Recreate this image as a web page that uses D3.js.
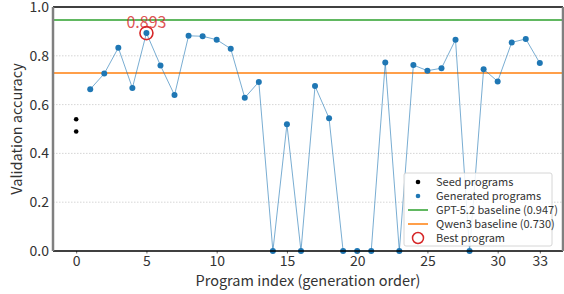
<!DOCTYPE html>
<html>
<head>
<meta charset="utf-8">
<script src="https://cdn.jsdelivr.net/npm/d3@7"></script>
<style>
  body { margin: 0; background: #fff; }
  svg { display: block; font-family: "Noto Sans CJK JP", "Noto Sans", sans-serif; }
</style>
</head>
<body>
<script>
// seed programs (index 0)
var seedIdx = [0, 0];
var seedAcc = [0.540, 0.490];

// generated programs 1..33
var genIdx = [1,2,3,4,5,6,7,8,9,10,11,12,13,14,15,16,17,18,19,20,21,22,23,24,25,26,27,28,29,30,31,32,33];
var genAcc = [0.663,0.727,0.833,0.668,0.893,0.760,0.639,0.882,0.880,0.866,0.829,0.628,0.693,0,
              0.519,0,0.676,0.544,0,0,0,0.773,0,0.762,0.739,0.749,0.866,0,0.745,0.695,0.855,0.869,0.770];

var gptBase = 0.947, qwenBase = 0.730;
var bestIdx = 5, bestAcc = 0.893;

var xTicks = [0, 5, 10, 15, 20, 25, 30, 33];
var yTicks = [0, 0.2, 0.4, 0.6, 0.8, 1.0];

var W = 564, H = 294;
var margin = { top: 7, right: 1, bottom: 43, left: 53 };
var width = W - margin.left - margin.right,
    height = H - margin.top - margin.bottom;

var svg = d3.select("body").append("svg")
    .attr("width", W).attr("height", H);
var g = svg.append("g")
    .attr("transform", "translate(" + margin.left + "," + margin.top + ")");

var x = d3.scaleLinear().domain([-1.65, 34.65]).range([0, width]);
var y = d3.scaleLinear().domain([0, 1]).range([height, 0]);

// grid
g.selectAll(".grid").data([0.2, 0.4, 0.6, 0.8]).enter().append("line")
    .attr("x1", 0).attr("x2", width)
    .attr("y1", function(d) { return y(d); }).attr("y2", function(d) { return y(d); })
    .attr("stroke", "#cccccc").attr("stroke-width", 0.8).attr("stroke-dasharray", "1.5,1.5");

// baselines
g.append("line").attr("x1", 0).attr("x2", width)
    .attr("y1", y(gptBase)).attr("y2", y(gptBase))
    .attr("stroke", "#2ca02c").attr("stroke-width", 1.5);
g.append("line").attr("x1", 0).attr("x2", width)
    .attr("y1", y(qwenBase)).attr("y2", y(qwenBase))
    .attr("stroke", "#ff7f0e").attr("stroke-width", 1.5);

// generated line
var line = d3.line()
    .x(function(d, i) { return x(genIdx[i]); })
    .y(function(d) { return y(d); });
g.append("path").datum(genAcc)
    .attr("d", line).attr("fill", "none")
    .attr("stroke", "#1f77b4").attr("stroke-opacity", 0.6).attr("stroke-width", 1);

g.selectAll(".gen").data(genAcc).enter().append("circle")
    .attr("cx", function(d, i) { return x(genIdx[i]); })
    .attr("cy", function(d) { return y(d); })
    .attr("r", 3).attr("fill", "#1f77b4");

g.selectAll(".seed").data(seedAcc).enter().append("circle")
    .attr("cx", function(d, i) { return x(seedIdx[i]); })
    .attr("cy", function(d) { return y(d); })
    .attr("r", 2.3).attr("fill", "#000");

// best program
g.append("circle").attr("cx", x(bestIdx)).attr("cy", y(bestAcc))
    .attr("r", 6.5).attr("fill", "none")
    .attr("stroke", "#d62728").attr("stroke-width", 1.6);
g.append("text").attr("x", x(bestIdx)).attr("y", y(bestAcc) - 5)
    .attr("text-anchor", "middle").attr("font-size", 16)
    .attr("fill", "#d62728").attr("fill-opacity", 0.8)
    .text(bestAcc.toFixed(3));

// axes
var xAxis = g.append("g").attr("transform", "translate(0," + height + ")")
    .call(d3.axisBottom(x).tickValues(xTicks).tickSize(2.5).tickPadding(3).tickFormat(d3.format("d")));
xAxis.select(".domain").remove();
xAxis.selectAll("line").attr("stroke", "#666");
xAxis.selectAll("text").attr("font-size", 14).attr("fill", "#333")
    .attr("font-family", "'Noto Sans CJK JP', sans-serif");

var yAxis = g.append("g")
    .call(d3.axisLeft(y).tickValues(yTicks).tickSize(0).tickPadding(4).tickFormat(d3.format(".1f")));
yAxis.select(".domain").remove();
yAxis.selectAll("text").attr("font-size", 14).attr("fill", "#333")
    .attr("font-family", "'Noto Sans CJK JP', sans-serif");

// spines
g.append("line").attr("x1", 0).attr("x2", width).attr("y1", 0).attr("y2", 0)
    .attr("stroke", "#000").attr("stroke-width", 1.5);
g.append("line").attr("x1", 0).attr("x2", width).attr("y1", height).attr("y2", height)
    .attr("stroke", "#000").attr("stroke-width", 1.5);
g.append("line").attr("x1", 0).attr("x2", 0).attr("y1", 0).attr("y2", height)
    .attr("stroke", "#808080").attr("stroke-width", 2.5);
g.append("line").attr("x1", width).attr("x2", width).attr("y1", 0).attr("y2", height)
    .attr("stroke", "#808080").attr("stroke-width", 2.5);

// axis labels
svg.append("text").attr("x", margin.left + width / 2).attr("y", 286)
    .attr("text-anchor", "middle").attr("font-size", 14.5).attr("fill", "#333")
    .text("Program index (generation order)");
svg.append("text").attr("transform", "translate(22," + (margin.top + height / 2) + ") rotate(-90)")
    .attr("text-anchor", "middle").attr("font-size", 14.5).attr("fill", "#333")
    .text("Validation accuracy");

// legend
var legendItems = [
    { label: "Seed programs", type: "dot", color: "#000" },
    { label: "Generated programs", type: "dot", color: "#1f77b4" },
    { label: "GPT-5.2 baseline (" + gptBase.toFixed(3) + ")", type: "line", color: "#2ca02c" },
    { label: "Qwen3 baseline (" + qwenBase.toFixed(3) + ")", type: "line", color: "#ff7f0e" },
    { label: "Best program", type: "ring", color: "#d62728" }
];
var lg = svg.append("g").attr("transform", "translate(404,173)");
lg.append("rect").attr("width", 148).attr("height", 73).attr("rx", 2)
    .attr("fill", "#fff").attr("fill-opacity", 0.85)
    .attr("stroke", "#cccccc").attr("stroke-width", 0.8);
var rows = lg.selectAll(".row").data(legendItems).enter().append("g")
    .attr("transform", function(d, i) { return "translate(0," + (9 + i * 14) + ")"; });
rows.each(function(d) {
    var r = d3.select(this);
    if (d.type === "dot") r.append("circle").attr("cx", 14).attr("cy", 0).attr("r", 2.3).attr("fill", d.color);
    if (d.type === "line") r.append("line").attr("x1", 4).attr("x2", 24).attr("y1", 0).attr("y2", 0)
        .attr("stroke", d.color).attr("stroke-width", 1.5);
    if (d.type === "ring") r.append("circle").attr("cx", 14).attr("cy", 0).attr("r", 5.5)
        .attr("fill", "none").attr("stroke", d.color).attr("stroke-width", 1.5);
});
rows.append("text").attr("x", 32).attr("y", 0).attr("dy", "0.35em")
    .attr("font-size", 11).attr("fill", "#333")
    .text(function(d) { return d.label; });
</script>
</body>
</html>
